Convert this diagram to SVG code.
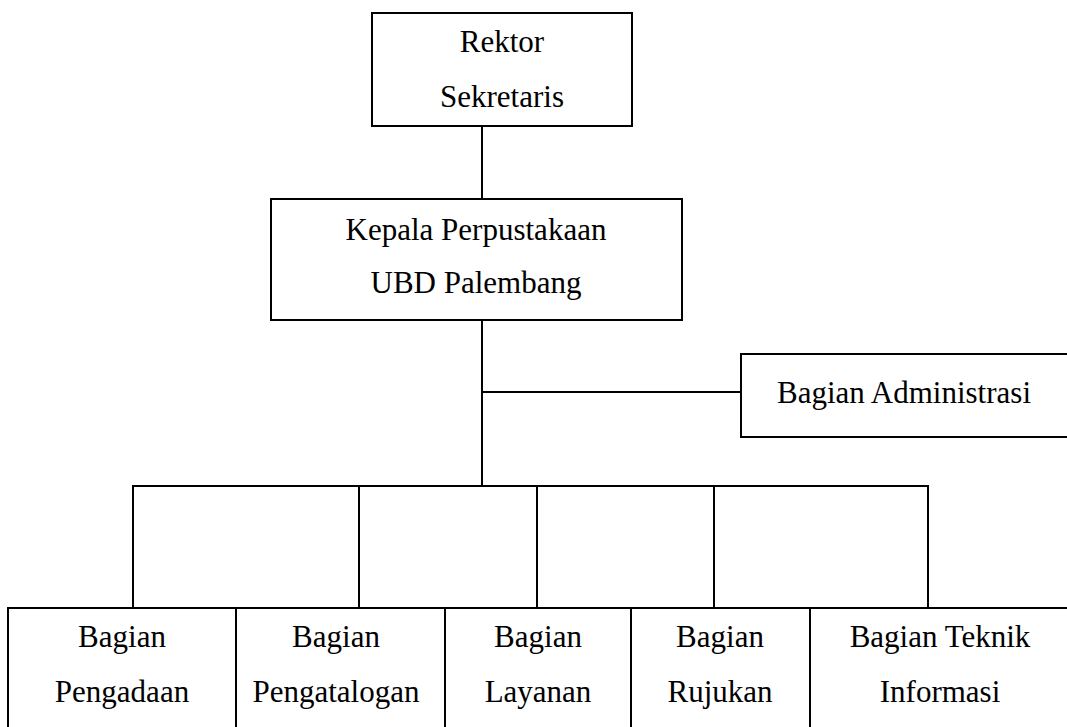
<svg xmlns="http://www.w3.org/2000/svg" width="1067" height="727" viewBox="0 0 1067 727">
<style>
.box{fill:#fff;stroke:#000;stroke-width:2}
.ln{fill:none;stroke:#000;stroke-width:2}
text{font-family:"Liberation Serif","Times New Roman",serif;font-size:31px;fill:#000;text-anchor:middle}
</style>
<rect width="1067" height="727" fill="#fff"/>
<g id="connectors">
<line class="ln" x1="482" y1="126" x2="482" y2="199"/>
<line class="ln" x1="482" y1="320" x2="482" y2="486"/>
<line class="ln" x1="482" y1="392" x2="741" y2="392"/>
<polyline class="ln" points="133,608 133,486 928,486 928,608"/>
<line class="ln" x1="359" y1="486" x2="359" y2="608"/>
<line class="ln" x1="537" y1="486" x2="537" y2="608"/>
<line class="ln" x1="714" y1="486" x2="714" y2="608"/>
</g>
<g id="rektor">
<rect class="box" x="372" y="13" width="260" height="113"/>
<text x="502" y="52">Rektor</text>
<text x="502" y="107">Sekretaris</text>
</g>
<g id="kepala">
<rect class="box" x="271" y="199" width="411" height="121"/>
<text x="476" y="240">Kepala Perpustakaan</text>
<text x="476" y="293">UBD Palembang</text>
</g>
<g id="administrasi">
<rect class="box" x="741" y="354" width="340" height="83"/>
<text x="904" y="403">Bagian Administrasi</text>
</g>
<g id="pengadaan">
<rect class="box" x="8" y="608" width="228" height="130"/>
<text x="122" y="647">Bagian</text>
<text x="122" y="702">Pengadaan</text>
</g>
<g id="pengatalogan">
<rect class="box" x="236" y="608" width="209" height="130"/>
<text x="336" y="647">Bagian</text>
<text x="336" y="702">Pengatalogan</text>
</g>
<g id="layanan">
<rect class="box" x="445" y="608" width="186" height="130"/>
<text x="538" y="647">Bagian</text>
<text x="538" y="702">Layanan</text>
</g>
<g id="rujukan">
<rect class="box" x="631" y="608" width="179" height="130"/>
<text x="720" y="647">Bagian</text>
<text x="720" y="702">Rujukan</text>
</g>
<g id="teknik">
<rect class="box" x="810" y="608" width="270" height="130"/>
<text x="940" y="647">Bagian Teknik</text>
<text x="940" y="702">Informasi</text>
</g>
</svg>
